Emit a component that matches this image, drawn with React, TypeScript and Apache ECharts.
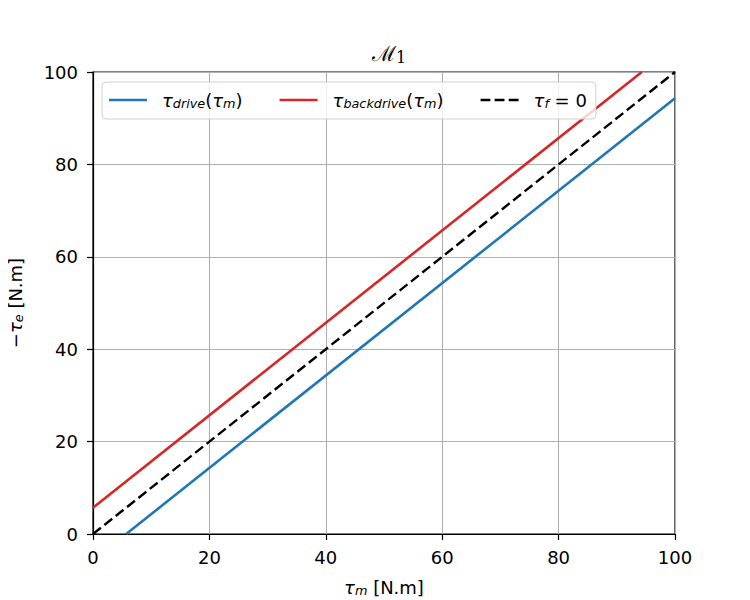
import React, { useEffect, useRef } from "react";
import * as echarts from "echarts";

const offset = 5.7;
const driveX = [offset, 100];
const driveY = [0, 100 - offset];
const backX = [0, 100 - offset];
const backY = [offset, 100];
const zeroX = [0, 100];
const zeroY = [0, 100];

const pair = (xs: number[], ys: number[]) => xs.map((x, i) => [x, ys[i]]);

const FONT = "DejaVu Sans";
const FS = 18;

const rich = {
  i: { fontFamily: FONT, fontSize: FS, color: "#000", fontStyle: "italic" },
  s: { fontFamily: FONT, fontSize: 12.8, color: "#000", fontStyle: "italic", verticalAlign: "bottom", padding: [7, 0, 0, 0] },
  n: { fontFamily: FONT, fontSize: FS, color: "#000" },
};

const solidIcon = "path://M0,0H38V2.6H0Z";
const dashIcon = "path://M0,0H10V2.6H0Z M14.3,0H24.3V2.6H14.3Z M28.6,0H38.6V2.6H28.6Z";

export default function App() {
  const ref = useRef<HTMLDivElement>(null);
  useEffect(() => {
    const chart = echarts.init(ref.current!, null, { renderer: "svg" });
    const axisCommon = {
      type: "value",
      min: 0,
      max: 100,
      interval: 20,
      axisLine: { show: true, onZero: false, lineStyle: { color: "#000", width: 1.2 } },
      axisTick: { show: true, length: 6, lineStyle: { color: "#000", width: 1.2 } },
      axisLabel: { color: "#000", fontFamily: FONT, fontSize: FS },
      splitLine: { show: true, lineStyle: { color: "#b0b0b0", width: 1.1 } },
    };
    chart.setOption({
      animation: false,
      backgroundColor: "#fff",
      title: {
        text: "{m|ℳ}{n|1}",
        left: 384,
        textAlign: "center",
        top: 38,
        textStyle: {
          fontWeight: "normal",
          rich: {
            m: { fontFamily: "DejaVu Serif", fontSize: 21, color: "#000", fontWeight: "normal" },
            n: { fontFamily: "DejaVu Serif", fontSize: 16, color: "#000", fontWeight: "normal", padding: [6, 0, 0, 0] },
          },
        },
      },
      grid: {
        left: 93,
        right: 75,
        top: 72,
        bottom: 66,
        containLabel: false,
        outerBoundsMode: "none",
        show: true,
        borderColor: "#000",
        borderWidth: 1.2,
      },
      legend: {
        left: 102,
        top: 82,
        orient: "horizontal",
        itemWidth: 38,
        itemHeight: 14,
        itemGap: 37,
        padding: [9, 9, 9, 7],
        borderColor: "#d0d0d0",
        borderWidth: 1,
        borderRadius: 4,
        backgroundColor: "rgba(255,255,255,0.8)",
        textStyle: { fontFamily: FONT, fontSize: FS, color: "#000", padding: [0, 0, 0, 10], rich },
        data: [
          { name: "drive", icon: solidIcon },
          { name: "backdrive", icon: solidIcon },
          { name: "zero", icon: dashIcon },
        ],
        formatter: (name: string) => {
          if (name === "drive") return "{i|τ}{s|drive}{n|(}{i|τ}{s|m}{n|)}";
          if (name === "backdrive") return "{i|τ}{s|backdrive}{n|(}{i|τ}{s|m}{n|)}";
          return "{i|τ}{s|f}{n| = 0}";
        },
      },
      xAxis: {
        ...axisCommon,
        axisLabel: { ...axisCommon.axisLabel, margin: 14 },
        name: "{i|τ}{s|m}{n| [N.m]}",
        nameLocation: "middle",
        nameGap: 43,
        nameTextStyle: { rich },
      },
      yAxis: {
        ...axisCommon,
        axisLabel: { ...axisCommon.axisLabel, margin: 15 },
        name: "{n|−}{i|τ}{s|e}{n| [N.m]}",
        nameLocation: "middle",
        nameGap: 68,
        nameTextStyle: { rich },
      },
      series: [
        {
          name: "drive",
          type: "line",
          data: pair(driveX, driveY),
          symbol: "none",
          lineStyle: { color: "#1f77b4", width: 2.6 },
          itemStyle: { color: "#1f77b4" },
          z: 3,
        },
        {
          name: "backdrive",
          type: "line",
          data: pair(backX, backY),
          symbol: "none",
          lineStyle: { color: "#d62728", width: 2.6 },
          itemStyle: { color: "#d62728" },
          z: 3,
        },
        {
          name: "zero",
          type: "line",
          data: pair(zeroX, zeroY),
          symbol: "none",
          lineStyle: { color: "#000", width: 2.4, type: [10, 4.5] },
          itemStyle: { color: "#000" },
          z: 3,
        },
      ],
    });
    return () => chart.dispose();
  }, []);
  return <div ref={ref} style={{ width: 750, height: 600, marginLeft: -8, marginTop: -8 }} />;
}
